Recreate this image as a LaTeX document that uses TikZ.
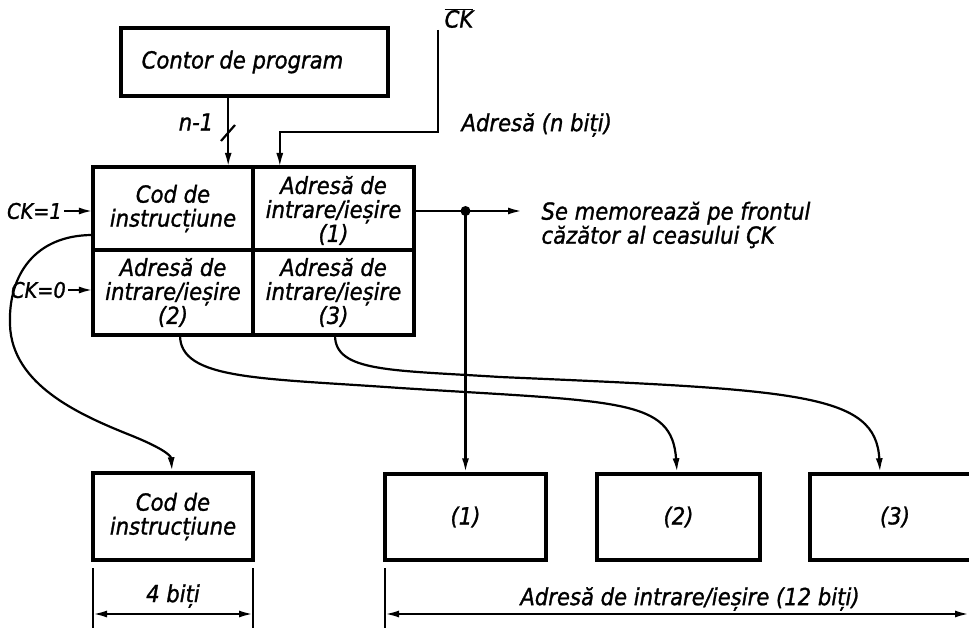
\documentclass[tikz,border=0pt]{standalone}
\usepackage{fontspec}
\setmainfont{DejaVu Sans Condensed}[ItalicFont={DejaVu Sans Condensed Oblique}, ItalicFeatures={FakeBold=1.2}]
\usetikzlibrary{arrows.meta}
\begin{document}
\begin{tikzpicture}[x=1pt,y=-1pt,
  txt/.style={font=\fontsize{23.5}{24}\selectfont\itshape, align=center},
  small/.style={font=\fontsize{21.5}{24}\selectfont\itshape},
  box/.style={draw, line width=3.4pt, inner sep=0pt, txt},
  cell/.style={inner sep=0pt, txt},
  wire/.style={line width=2.2pt},
  arr/.style={wire, -{Latex[length=14pt,width=7pt]}},
  dim/.style={wire, {Latex[length=14pt,width=7pt]}-{Latex[length=14pt,width=7pt]}}]
\clip (0,0) rectangle (969,628);

% program counter
\node[box, minimum width=267pt, minimum height=68pt] (contor) at (254.5,62) {Contor de program\hspace*{24pt}};

% instruction register: four cells
\node[cell, minimum width=160pt, minimum height=83pt] (c11) at (173,208.5) {Cod de\\instrucțiune};
\node[cell, minimum width=161pt, minimum height=83pt] (c12) at (333.5,210.5) {Adresă de\\intrare/ieșire\\(1)};
\node[cell, minimum width=160pt, minimum height=85pt] (c21) at (173,292.5) {Adresă de\\intrare/ieșire\\(2)};
\node[cell, minimum width=161pt, minimum height=85pt] (c22) at (333.5,292.5) {Adresă de\\intrare/ieșire\\(3)};
\draw[line width=3.4pt] (93,167) rectangle (414,335);
\draw[line width=3.4pt] (253,167) -- (253,335);
\draw[line width=3.4pt] (93,250) -- (414,250);

% output registers
\node[box, minimum width=160pt, minimum height=87pt] (cod) at (173,516.5) {Cod de\\instrucțiune};
\node[box, minimum width=161pt, minimum height=86pt] (b1) at (465.5,517) {(1)};
\node[box, minimum width=163pt, minimum height=86pt] (b2) at (678.5,517) {(2)};
\node[box, minimum width=170pt, minimum height=86pt] (b3) at (895,517) {(3)};

% counter to register, n-1 lines
\draw[arr] ([xshift=-25pt]c11.north east |- contor.south) -- ([xshift=-25pt]c11.north east);
\draw[wire] (221,141) -- (235,125);
\node[txt] (nm1) at (196,122) {n-1};

% clock bar input
\node[txt] (ckb) at (459,18) {$\overline{\mbox{\itshape CK}}$};
\coordinate (ckin) at (438,30);
\draw[arr] (ckin) -- (438,132) -- ([xshift=27pt]c12.north west |- 0,132) -- ([xshift=27pt]c12.north west |- 0,167);

% clock level inputs
\node[small, anchor=east, inner sep=2pt] (ck1) at (64,211) {CK=1};
\node[small, anchor=east, inner sep=2pt] (ck0) at (68,290) {CK=0};
\draw[arr] (ck1.east) -- (c11.west |- ck1.east);
\draw[arr] (ck0.east) -- (c21.west |- ck0.east);

% address output
\node[txt, anchor=west] (addr) at (458,125) {Adresă (n biți)};
\fill (465.5,211) circle (5pt) coordinate (dot);
\coordinate (outend) at (522,211);
\draw[wire] (c12.east |- dot) -- (dot);
\draw[arr] (dot) -- (outend);
\node[txt, anchor=west, align=left] (mem) at (538,225) {Se memorează pe frontul\\căzător al ceasului ÇK};
\draw[arr] (dot) -- (b1.north);

% field transfers
\draw[arr] (c11.west |- 0,235) .. controls (35,235) and (8,275) .. (10,325)
  .. controls (12,385) and (80,415) .. (130,435)
  .. controls (160,447) and (171,455) .. ([xshift=-1pt]cod.north);
\draw[arr] (c21.south west -| 180,0) .. controls (180,380) and (260,378) .. (400,388)
  .. controls (620,402) and (672,398) .. ([xshift=-1.5pt]b2.north);
\draw[arr] (c22.south west -| 335,0) .. controls (335,372) and (390,370) .. (500,377)
  .. controls (800,390) and (876,393) .. ([xshift=-15pt]b3.north);

% field widths
\draw[wire] (93,568) -- (93,628);
\draw[wire] (253,568) -- (253,628);
\draw[dim] (93,614) -- (253,614);
\node[txt] (w4) at (173,596) {4 biți};
\draw[wire] (385,568) -- (385,628);
\draw[dim] (385,614) -- (969,614);
\node[txt] (w12) at (690,599) {Adresă de intrare/ieșire (12 biți)};
\end{tikzpicture}
\end{document}
